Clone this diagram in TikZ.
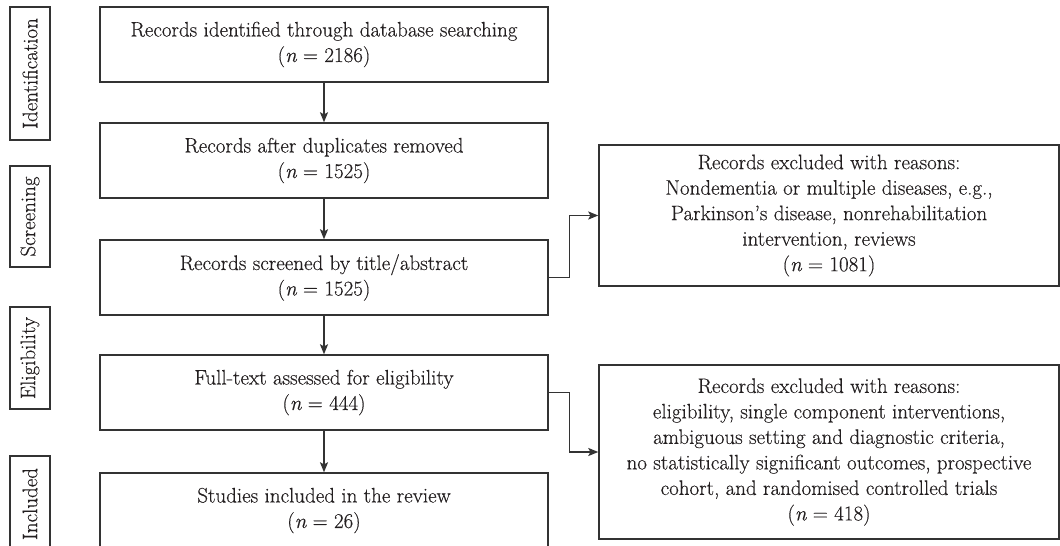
\documentclass[tikz,border=0pt]{standalone}
\usepackage{fontspec}
\setmainfont{Latin Modern Roman}[FakeBold=0.35]
\usetikzlibrary{arrows.meta}
\definecolor{ink}{HTML}{231F20}
\definecolor{edge}{HTML}{333333}
\newcommand{\nn}[1]{({\itshape n} = #1)}
\begin{document}
\begin{tikzpicture}[x=1pt,y=-1pt,
  every node/.style={text=ink,font=\fontsize{21}{25.5}\selectfont},
  mainbox/.style={draw=edge,line width=1.4pt,minimum width=448pt,minimum height=75pt,align=center,inner sep=0pt},
  exbox/.style={draw=edge,line width=1.4pt,minimum width=460pt,align=center,inner sep=0pt},
  phase/.style={draw=edge,line width=1.2pt,rotate=90,minimum height=40pt,inner sep=0pt},
  conn/.style={draw=edge,line width=1.4pt,-{Stealth[length=10pt,width=8pt,inset=2pt]}}]
\useasboundingbox (0,0) rectangle (1060,546);

\node[phase,minimum width=133pt] (pI) at (30,73.5) {Identification};
\node[phase,minimum width=101pt] (pS) at (30,216.5) {Screening};
\node[phase,minimum width=102pt] (pE) at (30,358) {Eligibility};
\node[phase,minimum width=96pt] (pN) at (30,504) {Included};

\node[mainbox] (b1) at (324,44.5) {Records identified through database searching\\\nn{2186}};
\node[mainbox] (b2) at (324,160.5) {Records after duplicates removed\\\nn{1525}};
\node[mainbox] (b3) at (324,277.5) {Records screened by title/abstract\\\nn{1525}};
\node[mainbox] (b4) at (324,392.5) {Full-text assessed for eligibility\\\nn{444}};
\node[mainbox] (b5) at (324,510.5) {Studies included in the review\\\nn{26}};

\node[exbox,minimum height=141pt] (xa) at (829,215.5) {Records excluded with reasons:\\Nondementia or multiple diseases, e.g.,\\Parkinson’s disease, nonrehabilitation\\intervention, reviews\\\nn{1081}};
\node[exbox,minimum height=174pt] (xb) at (829,452) {Records excluded with reasons:\\eligibility, single component interventions,\\ambiguous setting and diagnostic criteria,\\no statistically significant outcomes, prospective\\cohort, and randomised controlled trials\\\nn{418}};

\draw[conn] (b1.south) -- (b2.north);
\draw[conn] (b2.south) -- (b3.north);
\draw[conn] (b3.south) -- (b4.north);
\draw[conn] (b4.south) -- (b5.north);
\draw[conn] (b3.east) -- ++(21,0) |- (xa.west);
\draw[conn] (b4.east) -- ++(21,0) |- (xb.west);
\end{tikzpicture}
\end{document}
